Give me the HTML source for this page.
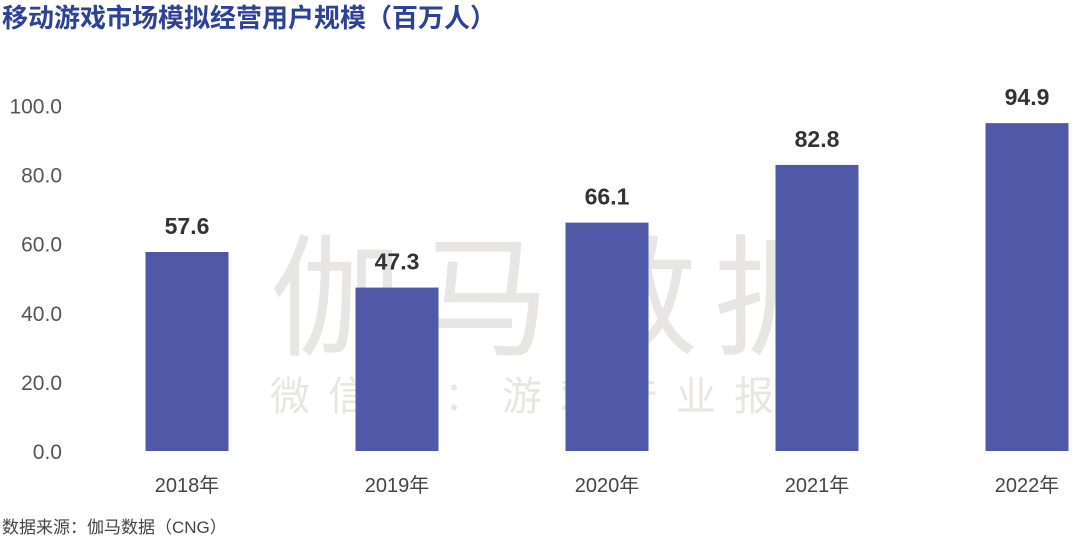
<!DOCTYPE html>
<html><head><meta charset="utf-8"><style>
body{margin:0;background:#fff;width:1080px;height:538px;overflow:hidden;font-family:"Liberation Sans","Noto Sans CJK SC",sans-serif}
</style></head><body>
<svg width="1080" height="538" xmlns="http://www.w3.org/2000/svg">
<text x="2" y="27" font-size="26" font-weight="bold" fill="#2d4296" font-family="Liberation Sans,Noto Sans CJK SC,sans-serif">移动游戏市场模拟经营用户规模（百万人）</text>
<g fill="#d9d6d2" font-family="Noto Sans CJK SC,sans-serif">
<text x="270" y="345" font-size="132" opacity="0.6" letter-spacing="16">伽马数据</text>
<text x="270" y="410" font-size="40" opacity="0.6" letter-spacing="18">微信号：游戏产业报告</text>
</g>
<g id="yaxis"></g>
<g id="bars"></g>
<text x="2" y="533" font-size="17" fill="#444" font-family="Liberation Sans,Noto Sans CJK SC,sans-serif">数据来源：伽马数据（CNG）</text>
</svg>
<script>
const categories=["2018年","2019年","2020年","2021年","2022年"];
const values=[57.6,47.3,66.1,82.8,94.9];
const yTicks=[0,20,40,60,80,100];
const NS="http://www.w3.org/2000/svg";
const y0=451,k=3.455,x0=187,step=210,bw=83;
const yS=v=>y0-v*k, xS=i=>x0+i*step;
const ya=document.getElementById('yaxis'),bg=document.getElementById('bars');
yTicks.forEach(t=>{const e=document.createElementNS(NS,'text');


e.setAttribute('x',62);e.setAttribute('y',yS(t)+8);e.setAttribute('text-anchor','end');
e.setAttribute('font-size','21');e.setAttribute('fill','#555');e.textContent=t.toFixed(1);ya.appendChild(e);});
values.forEach((v,i)=>{const r=document.createElementNS(NS,'rect');


r.setAttribute('x',xS(i)-bw/2);r.setAttribute('y',yS(v));r.setAttribute('width',bw);r.setAttribute('height',v*k);r.setAttribute('fill','#5058a8');bg.appendChild(r);
const l=document.createElementNS(NS,'text');


l.setAttribute('x',xS(i));l.setAttribute('y',yS(v)-18);l.setAttribute('text-anchor','middle');l.setAttribute('font-size','23');l.setAttribute('font-weight','bold');l.setAttribute('fill','#333');l.textContent=v.toFixed(1);bg.appendChild(l);
const c=document.createElementNS(NS,'text');


c.setAttribute('x',xS(i));c.setAttribute('y',492);c.setAttribute('text-anchor','middle');c.setAttribute('font-size','20');c.setAttribute('fill','#444');c.setAttribute('font-family','Liberation Sans,Noto Sans CJK SC,sans-serif');c.textContent=categories[i];bg.appendChild(c);});
</script>
</body></html>
